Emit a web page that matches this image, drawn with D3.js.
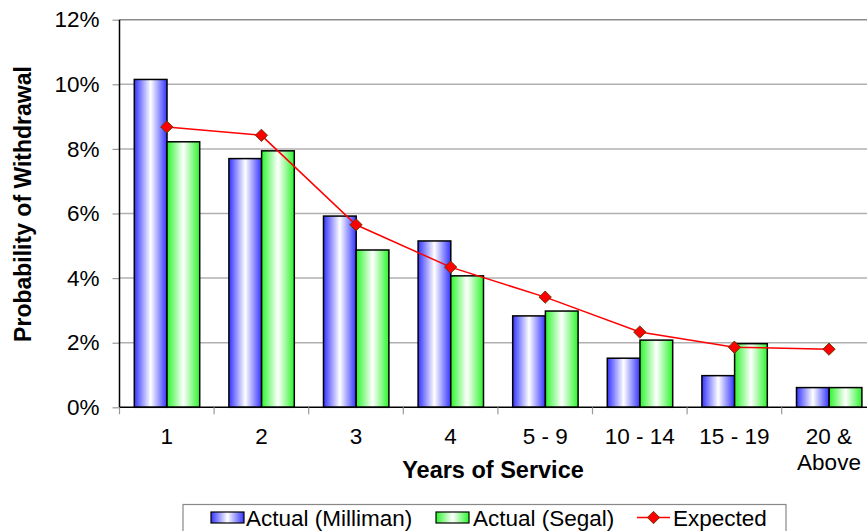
<!DOCTYPE html>
<html>
<head>
<meta charset="utf-8">
<script src="https://cdn.jsdelivr.net/npm/d3@7"></script>
<style>
  body { margin: 0; background: #fff; }
  svg { display: block; font-family: Arial, "Liberation Sans", sans-serif; }
</style>
</head>
<body>
<div id="chart"></div>
<script>
// data
var categories = ["1", "2", "3", "4", "5 - 9", "10 - 14", "15 - 19", "20 & Above"];
var milliman = [0.1015, 0.0770, 0.0592, 0.0515, 0.0283, 0.0152, 0.0098, 0.0061];
var segal    = [0.0822, 0.0794, 0.0487, 0.0407, 0.0298, 0.0208, 0.0197, 0.0061];
var expected = [0.0868, 0.0842, 0.0565, 0.0434, 0.0341, 0.0233, 0.0186, 0.0180];
var yTicks = [0, 0.02, 0.04, 0.06, 0.08, 0.10, 0.12];
var seriesNames = ["Actual (Milliman)", "Actual (Segal)", "Expected"];

var width = 867, height = 531;
var plotLeft = 119.5, plotRight = 876.3, plotTop = 19.7, plotBottom = 407.3;

var svg = d3.select("#chart").append("svg")
    .attr("width", width)
    .attr("height", height);

var defs = svg.append("defs");
function grad(id, col) {
    var g = defs.append("linearGradient").attr("id", id)
        .attr("x1", "0").attr("x2", "1").attr("y1", "0").attr("y2", "0");
    g.append("stop").attr("offset", "0%").attr("stop-color", col);
    g.append("stop").attr("offset", "50%").attr("stop-color", "#ffffff");
    g.append("stop").attr("offset", "100%").attr("stop-color", col);
}
grad("gBlue", "#3434ff");
grad("gGreen", "#2cf52c");

var x = d3.scaleBand().domain(categories).range([plotLeft, plotRight]).padding(0);
var x1 = d3.scaleBand().domain([0, 1]).range([14.8, 80.2]);
var y = d3.scaleLinear().domain([0, 0.12]).range([plotBottom, plotTop]);

// gridlines
svg.append("g").selectAll("line")
    .data(yTicks.filter(function(d){ return d > 0; }))
    .enter().append("line")
    .attr("x1", plotLeft).attr("x2", width)
    .attr("y1", function(d){ return y(d); })
    .attr("y2", function(d){ return y(d); })
    .attr("stroke", function(d){ return d === 0.12 ? "#8c8c8c" : "#b0b0b0"; })
    .attr("stroke-width", 1.5);

// y axis
var yAxis = svg.append("g")
    .attr("transform", "translate(" + plotLeft + ",0)")
    .call(d3.axisLeft(y).tickValues(yTicks).tickFormat(d3.format(".0%")).tickSize(7).tickPadding(13));
yAxis.select(".domain").remove();
yAxis.selectAll(".tick line").attr("stroke", "#999").attr("stroke-width", 1.2);
yAxis.selectAll("text").attr("font-size", 22.5).attr("fill", "#000")
    .attr("font-family", "Arial, 'Liberation Sans', sans-serif");

// bars
var groups = svg.append("g").selectAll("g")
    .data(categories)
    .enter().append("g")
    .attr("transform", function(d){ return "translate(" + x(d) + ",0)"; });

groups.append("rect")
    .attr("x", x1(0)).attr("width", x1.bandwidth())
    .attr("y", function(d, i){ return y(milliman[i]); })
    .attr("height", function(d, i){ return plotBottom - y(milliman[i]); })
    .attr("fill", "url(#gBlue)").attr("stroke", "#000").attr("stroke-width", 1.5);

groups.append("rect")
    .attr("x", x1(1)).attr("width", x1.bandwidth())
    .attr("y", function(d, i){ return y(segal[i]); })
    .attr("height", function(d, i){ return plotBottom - y(segal[i]); })
    .attr("fill", "url(#gGreen)").attr("stroke", "#000").attr("stroke-width", 1.5);

// axis lines
svg.append("line").attr("x1", plotLeft).attr("x2", plotLeft).attr("y1", plotTop).attr("y2", plotBottom)
    .attr("stroke", "#000").attr("stroke-width", 1.5);
svg.append("line").attr("x1", plotLeft).attr("x2", width).attr("y1", plotBottom).attr("y2", plotBottom)
    .attr("stroke", "#000").attr("stroke-width", 1.5);

// x ticks between categories
svg.append("g").selectAll("line")
    .data(categories)
    .enter().append("line")
    .attr("x1", function(d){ return x(d); }).attr("x2", function(d){ return x(d); })
    .attr("y1", plotBottom).attr("y2", plotBottom + 7)
    .attr("stroke", "#999").attr("stroke-width", 1.2);

// x labels
var xl = svg.append("g").selectAll("text")
    .data(categories)
    .enter().append("text")
    .attr("x", function(d){ return x(d) + x.bandwidth() / 2; })
    .attr("y", 444)
    .attr("text-anchor", "middle")
    .attr("font-size", 22.5);
xl.each(function(d){
    var parts = d === "20 & Above" ? ["20 &", "Above"] : [d];
    var t = d3.select(this);
    parts.forEach(function(p, k){
        t.append("tspan").attr("x", x(d) + x.bandwidth() / 2).attr("dy", k === 0 ? 0 : 26).text(p);
    });
});

// expected line
var line = d3.line()
    .x(function(d, i){ return x(categories[i]) + x.bandwidth() / 2; })
    .y(function(d){ return y(d); });
svg.append("path").datum(expected)
    .attr("d", line).attr("fill", "none").attr("stroke", "#ff0000").attr("stroke-width", 1.5);

// diamond marker = rotated square, about 12px across
var marker = d3.symbol().type(d3.symbolSquare).size(76);
svg.append("g").selectAll("path")
    .data(expected)
    .enter().append("path")
    .attr("d", marker)
    .attr("transform", function(d, i){
        return "translate(" + (x(categories[i]) + x.bandwidth() / 2) + "," + y(d) + ") rotate(45)";
    })
    .attr("fill", "#ff0000").attr("stroke", "#4a3a00").attr("stroke-width", 0.8);

// axis titles
svg.append("text")
    .attr("transform", "translate(31,204) rotate(-90)")
    .attr("text-anchor", "middle")
    .attr("font-size", 23).attr("font-weight", "bold")
    .text("Probability of Withdrawal");

svg.append("text")
    .attr("x", 493).attr("y", 478)
    .attr("text-anchor", "middle")
    .attr("font-size", 23.5).attr("font-weight", "bold")
    .text("Years of Service");

// legend
var legend = svg.append("g");
legend.append("rect")
    .attr("x", 183).attr("y", 504.5).attr("width", 603).attr("height", 40)
    .attr("fill", "#fff").attr("stroke", "#888").attr("stroke-width", 1.2);

var swatchX = [211, 436];
var textX = [246, 473, 673];
legend.append("rect").attr("x", swatchX[0]).attr("y", 512).attr("width", 33).attr("height", 11)
    .attr("fill", "url(#gBlue)").attr("stroke", "#000").attr("stroke-width", 1.2);
legend.append("rect").attr("x", swatchX[1]).attr("y", 512).attr("width", 33).attr("height", 11)
    .attr("fill", "url(#gGreen)").attr("stroke", "#000").attr("stroke-width", 1.2);
legend.append("line").attr("x1", 637).attr("x2", 670).attr("y1", 517.5).attr("y2", 517.5)
    .attr("stroke", "#ff0000").attr("stroke-width", 1.5);
legend.append("path").attr("d", marker)
    .attr("transform", "translate(653.5,517.5) rotate(45)")
    .attr("fill", "#ff0000").attr("stroke", "#4a3a00").attr("stroke-width", 0.8);

legend.selectAll("text.lg")
    .data(seriesNames)
    .enter().append("text")
    .attr("class", "lg")
    .attr("x", function(d, i){ return textX[i]; })
    .attr("y", 526)
    .attr("font-size", 22.5)
    .text(function(d){ return d; });
</script>
</body>
</html>
